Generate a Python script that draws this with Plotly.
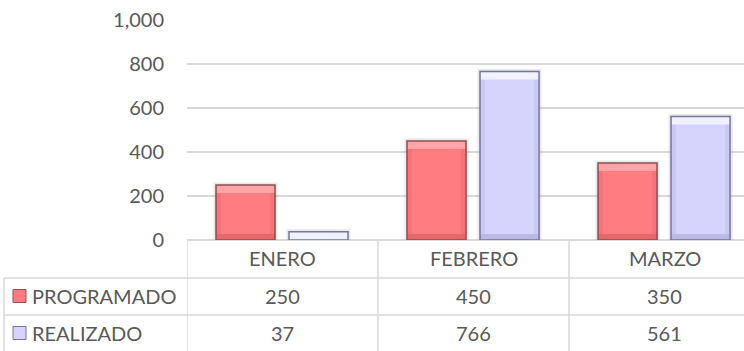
import plotly.graph_objects as go

# Chart data
months = ["ENERO", "FEBRERO", "MARZO"]
programado = [250, 450, 350]
realizado = [37, 766, 561]
series_names = ["PROGRAMADO", "REALIZADO"]

W, H = 744, 351
L, R, T, B = 187, 0, 20, 111
TXT = "#595959"
GRID = "#D9D9D9"
FONT = "Lato"
FS = 20

# fill, top highlight, bottom shade, side shade, edge
RED = ("#FF7C80", "#FFA5A8", "#E8676B", "#F5737A", "#8E4E50")
BLUE = ("#D4D4FC", "#F2F2FF", "#BABAE6", "#C9C9F4", "#76769E")

PX_PER_UNIT = (H - T - B) / 1000.0   # vertical pixels per data unit
CAT_PX = 191.0                        # pixels per category
BAR_PX = 59.0
BAR_W = BAR_PX / CAT_PX
OFFSETS = [-66.5 / CAT_PX, 6.5 / CAT_PX]
SIDE_W = 5 / CAT_PX


def px(x):
    return (x - L) / (W - L - R)


def py(y):
    return (H - B - y) / (H - T - B)


fig = go.Figure()
for vals, (fill, top, bot, side, edge), off, name in zip(
        [programado, realizado], [RED, BLUE], OFFSETS, series_names):
    base0 = [0] * len(vals)
    common = dict(x=months, showlegend=False, opacity=1)
    # soft shadow around each column
    fig.add_trace(go.Bar(y=vals, width=BAR_W, offset=off,
                         marker=dict(color="rgba(0,0,0,0)",
                                     line=dict(color="rgba(0,0,0,0.09)", width=5)),
                         hoverinfo="skip", **common))
    # main column body
    fig.add_trace(go.Bar(y=vals, name=name, width=BAR_W, offset=off,
                         marker=dict(color=fill, line=dict(width=0)),
                         hoverinfo="x+y+name", **common))
    # bevel: side shading
    for so in (off, off + BAR_W - SIDE_W):
        fig.add_trace(go.Bar(y=vals, width=SIDE_W, offset=so,
                             marker=dict(color=side, line=dict(width=0)),
                             hoverinfo="skip", **common))
    # bevel: darker base band
    hb = [min(v, 6 / PX_PER_UNIT) for v in vals]
    fig.add_trace(go.Bar(y=hb, base=base0, width=BAR_W, offset=off,
                         marker=dict(color=bot, line=dict(width=0)),
                         hoverinfo="skip", **common))
    # bevel: light top band
    ht = [min(v, 8 / PX_PER_UNIT) for v in vals]
    fig.add_trace(go.Bar(y=ht, base=[v - h for v, h in zip(vals, ht)], width=BAR_W, offset=off,
                         marker=dict(color=top, line=dict(width=0)),
                         hoverinfo="skip", **common))
    # outline
    fig.add_trace(go.Bar(y=vals, width=BAR_W, offset=off,
                         marker=dict(color="rgba(0,0,0,0)", line=dict(color=edge, width=1.5)),
                         hoverinfo="skip", **common))

shapes = []
annotations = []
tfont = dict(size=FS, color=TXT, family=FONT)

# data table grid
line = dict(color=GRID, width=1.5)
for xb in [-0.5, 0.5, 1.5]:
    shapes.append(dict(type="line", xref="x", yref="paper", x0=xb, x1=xb,
                       y0=0, y1=py(H + 5), line=line))
for yy in [278, 315]:
    shapes.append(dict(type="line", xref="paper", yref="paper", x0=px(4), x1=1,
                       y0=py(yy), y1=py(yy), line=line))
shapes.append(dict(type="line", xref="paper", yref="paper", x0=px(4), x1=px(4),
                   y0=py(278), y1=py(H + 5), line=line))

# header row: month names
for m in months:
    annotations.append(dict(x=m, y=py(258), xref="x", yref="paper", text=m,
                            xanchor="center", yanchor="middle",
                            showarrow=False, font=tfont))

# value rows with legend keys
rows = [(programado, 296, RED), (realizado, 333, BLUE)]
for name, (vals, yc, cols) in zip(series_names, rows):
    shapes.append(dict(type="rect", xref="paper", yref="paper",
                       x0=px(13), x1=px(26), y0=py(yc - 6.5), y1=py(yc + 6.5),
                       fillcolor=cols[0], line=dict(color=cols[4], width=1)))
    annotations.append(dict(x=px(30), y=py(yc), xref="paper", yref="paper", text=name,
                            xanchor="left", yanchor="middle", showarrow=False, font=tfont))
    for m, v in zip(months, vals):
        annotations.append(dict(x=m, y=py(yc), xref="x", yref="paper", text=f"{v:,}",
                                xanchor="center", yanchor="middle",
                                showarrow=False, font=tfont))

fig.update_layout(
    width=W, height=H,
    margin=dict(l=L, r=R, t=T, b=B),
    paper_bgcolor="white", plot_bgcolor="white",
    barmode="overlay",
    showlegend=False,
    font=dict(family=FONT, color=TXT, size=FS),
    xaxis=dict(range=[-0.5, 2.416], showticklabels=False, showgrid=False,
               zeroline=False, showline=False, fixedrange=True),
    yaxis=dict(range=[0, 1000], dtick=200, tickformat=",d", showgrid=True,
               gridcolor=GRID, gridwidth=1.5, zeroline=True, zerolinecolor=GRID,
               zerolinewidth=1.5, showline=False, ticklabelstandoff=22,
               tickfont=tfont, fixedrange=True),
    shapes=shapes,
    annotations=annotations,
)

fig.write_html("out.html")
